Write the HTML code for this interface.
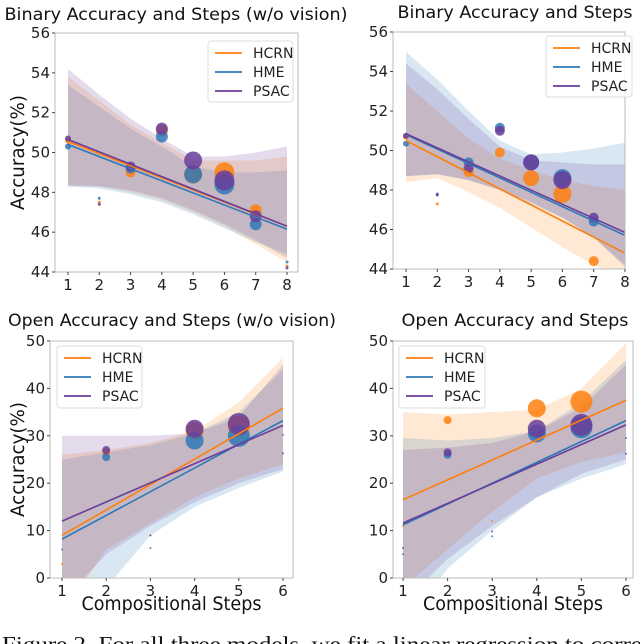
<!DOCTYPE html>
<html><head><meta charset="utf-8"><style>
html,body{margin:0;padding:0;background:#fff;overflow:hidden}
svg{display:block;font-family:"DejaVu Sans","Liberation Sans",sans-serif}
</style></head><body>
<svg id="fig" width="640" height="644" viewBox="0 0 640 644" xmlns="http://www.w3.org/2000/svg"></svg>
<script>
// ---- data ----
const seriesNames = ["HCRN","HME","PSAC"];
const p1Steps = [1,2,3,4,5,6,7,8];
const p1HCRN = [50.6,47.5,49.0,51.1,48.9,49.0,47.1,44.3];
const p1HME  = [50.3,47.7,49.2,50.8,48.9,48.4,46.4,44.5];
const p1PSAC = [50.7,47.4,49.3,51.2,49.6,48.6,46.8,44.2];
const p1Size = [3,1.5,5,6,9,10,6,1.5];
const p1Fit = [[50.55,46.3],[50.4,46.15],[50.65,46.3]];
const p1HCRNUp=[53.8,52.6,51.4,50.5,49.6,49.6,49.6,49.8], p1HCRNLo=[48.4,48.3,48.0,47.6,47.0,46.3,45.4,44.5];
const p1HMEUp=[53.4,52.3,51.2,50.3,49.3,49.0,49.0,49.1], p1HMELo=[48.3,48.2,47.9,47.5,46.9,46.2,45.5,44.9];
const p1PSACUp=[54.2,52.9,51.7,50.7,49.8,49.8,50.0,50.3], p1PSACLo=[48.3,48.3,48.1,47.7,47.1,46.4,45.6,44.7];

const p2Steps = [1,2,3,4,5,6,7];
const p2HCRN = [50.7,47.3,48.9,49.9,48.6,47.8,44.4];
const p2HME  = [50.35,47.8,49.4,51.15,49.4,48.6,46.4];
const p2PSAC = [50.75,47.75,49.1,51.0,49.4,48.5,46.6];
const p2Size = [3,1.5,5,5,8,9,5];
const p2Fit = [[50.5,44.8],[50.8,45.7],[50.85,45.85]];
const p2HCRNUp=[53.4,52.0,50.6,49.6,49.0,48.5,48.2,48.0], p2HCRNLo=[48.4,48.6,47.9,47.1,46.1,45.1,44.2,43.5];
const p2HMEUp=[55.0,53.6,52.0,50.5,49.8,49.9,50.1,50.4], p2HMELo=[48.7,48.8,48.5,48.0,47.3,46.6,45.6,44.2];
const p2PSACUp=[54.4,53.1,51.6,50.2,49.5,49.4,49.3,49.3], p2PSACLo=[48.7,48.8,48.5,48.0,47.4,46.6,45.6,44.1];

const p3Steps = [1,2,3,4,5,6];
const p3HCRN = [3,26.5,9,31,32,null];
const p3HME  = [6,25.5,6.3,29,30,30.2];
const p3PSAC = [null,27,9,31.5,32.5,26.3];
const p3Size = [1,4,1,9,11,1];
const p3Fit = [[9,35.8],[8.2,33.2],[12,32.2]];
const p3HCRNUp=[26,27,28.5,31,37,46.5], p3HCRNLo=[-8,6,11.5,17,21,24];
const p3HMEUp=[25,26.5,28,30.5,35,44], p3HMELo=[-12,-2,9,15,19,22.5];
const p3PSACUp=[30,30,30,30.5,34,45], p3PSACLo=[-5,5,11,16,20,23];

const p4Steps = [1,2,3,4,5,6];
const p4HCRN = [11,33.3,12,35.8,37.2,null];
const p4HME  = [5,26,8.8,30.5,31.8,29.5];
const p4PSAC = [6.3,26.5,9.8,31.5,32.3,26.2];
const p4Size = [1,4,1,9,11,1];
const p4Fit = [[16.5,37.5],[11.2,33.2],[11.6,32.3]];
const p4HCRNUp=[35,34.5,35,35.5,40,49.5], p4HCRNLo=[-2,6,14,21,24.5,26.5];
const p4HMEUp=[29.5,29,29.5,31,37,46], p4HMELo=[-10,2,10,17,21,24];
const p4PSACUp=[27,27.5,28.5,31,36,45], p4PSACLo=[-5,4,11,17,22,25];

const binTicks = [44,46,48,50,52,54,56];
const openTicks = [0,10,20,30,40,50];

const colors = ["#ff7f0e","#2f78b6","#6a3d9a"];
const NS="http://www.w3.org/2000/svg";
const svg=document.getElementById("fig");
function mk(tag,attrs,parent){const e=document.createElementNS(NS,tag);for(const k in attrs)e.setAttribute(k,attrs[k]);(parent||svg).appendChild(e);return e;}

const panels=[
 {id:"binary-wo-vision",box:[55,33,298,272],x1:[1,68],x8:[8,287],yd:[44,56],yTicks:binTicks,steps:p1Steps,
  ys:[p1HCRN,p1HME,p1PSAC],size:p1Size,fit:p1Fit,bands:[[p1HCRNUp,p1HCRNLo],[p1HMEUp,p1HMELo],[p1PSACUp,p1PSACLo]],bandX:[1,2,3,4,5,6,7,8],
  title:"Binary Accuracy and Steps (w/o vision)",tx:176,ty:20,tw:343,legend:[208,41,85,61],ylab:true,xlab:false,fitX:[1,8]},
 {id:"binary",box:[393,32,625,269],x1:[1,406],x8:[8,625],yd:[44,56],yTicks:binTicks,steps:p2Steps,
  ys:[p2HCRN,p2HME,p2PSAC],size:p2Size,fit:p2Fit,bands:[[p2HCRNUp,p2HCRNLo],[p2HMEUp,p2HMELo],[p2PSACUp,p2PSACLo]],bandX:[1,2,3,4,5,6,7,8],
  title:"Binary Accuracy and Steps",tx:515,ty:18,tw:235,legend:[546,36,86,61],ylab:false,xlab:false,fitX:[1,8]},
 {id:"open-wo-vision",box:[50,341,293,578],x1:[1,62],x8:[6,283],yd:[0,50],yTicks:openTicks,steps:p3Steps,
  ys:[p3HCRN,p3HME,p3PSAC],size:p3Size,fit:p3Fit,bands:[[p3HCRNUp,p3HCRNLo],[p3HMEUp,p3HMELo],[p3PSACUp,p3PSACLo]],bandX:[1,2,3,4,5,6],
  title:"Open Accuracy and Steps (w/o vision)",tx:172,ty:326,tw:328,legend:[57,346,85,62],ylab:true,xlab:true,fitX:[1,6]},
 {id:"open",box:[393,341,633,578],x1:[1,403],x8:[6,626],yd:[0,50],yTicks:openTicks,steps:p4Steps,
  ys:[p4HCRN,p4HME,p4PSAC],size:p4Size,fit:p4Fit,bands:[[p4HCRNUp,p4HCRNLo],[p4HMEUp,p4HMELo],[p4PSACUp,p4PSACLo]],bandX:[1,2,3,4,5,6],
  title:"Open Accuracy and Steps",tx:515,ty:326,tw:227,legend:[399,346,86,62],ylab:false,xlab:true,fitX:[1,6]}
];

panels.forEach((p,pi)=>{
  const g=mk("g",{});
  
  
  const [L,T,R,B]=p.box;
  const sx=v=>p.x1[1]+(v-p.x1[0])*(p.x8[1]-p.x1[1])/(p.x8[0]-p.x1[0]);
  const sy=v=>B-(v-p.yd[0])*(B-T)/(p.yd[1]-p.yd[0]);
  const cp=mk("clipPath",{id:"cp"+pi},g);
  mk("rect",{x:L,y:T,width:R-L,height:B-T},cp);
  const plot=mk("g",{"clip-path":"url(#cp"+pi+")"},g);
  p.bands.forEach((b,si)=>{
    let d="";
    p.bandX.forEach((x,i)=>{d+=(i?"L":"M")+sx(x)+","+sy(b[0][i]);});
    for(let i=p.bandX.length-1;i>=0;i--)d+="L"+sx(p.bandX[i])+","+sy(b[1][i]);
    const e=mk("path",{d:d+"Z",fill:colors[si],"fill-opacity":0.18},plot);
    
    
  });
  p.ys.forEach((arr,si)=>{
    arr.forEach((v,i)=>{
      if(v===null)return;
      const c=mk("circle",{cx:sx(p.steps[i]),cy:sy(v),r:p.size[i],fill:colors[si],"fill-opacity":0.85},plot);
      
      
    });
  });
  p.fit.forEach((f,si)=>{
    const l=mk("line",{x1:sx(p.fitX[0]),y1:sy(f[0]),x2:sx(p.fitX[1]),y2:sy(f[1]),stroke:colors[si],"stroke-width":1.6},plot);
    
    
  });
  const fr=mk("rect",{x:L,y:T,width:R-L,height:B-T,fill:"none",stroke:"#bbb","stroke-width":1},g);
  
  
  const nx=p.x8[0];
  for(let x=1;x<=nx;x++){
    mk("line",{x1:sx(x),y1:B,x2:sx(x),y2:B+3,stroke:"#444"},g);
    const t=mk("text",{x:sx(x),y:B+18,"font-size":15,"text-anchor":"middle",fill:"#222"},g);
    t.textContent=x;
    
    
  }
  p.yTicks.forEach(v=>{
    mk("line",{x1:L-3,y1:sy(v),x2:L,y2:sy(v),stroke:"#444"},g);
    const t=mk("text",{x:L-5,y:sy(v)+5,"font-size":15,"text-anchor":"end",fill:"#222"},g);
    t.textContent=v;
    
    
  });
  const tt=mk("text",{x:p.tx,y:p.ty,"font-size":17,"text-anchor":"middle",fill:"#111",textLength:p.tw,lengthAdjust:"spacingAndGlyphs"},g);
  tt.textContent=p.title;
  
  
  if(p.ylab){
    const cy=(T+B)/2;
    const yl=mk("text",{x:0,y:0,"font-size":19,"text-anchor":"middle",fill:"#111",textLength:115,lengthAdjust:"spacingAndGlyphs",transform:"translate(24,"+cy+") rotate(-90)"},g);
    yl.textContent="Accuracy(%)";
    
    
  }
  if(p.xlab){
    const xl=mk("text",{x:(L+R)/2,y:610,"font-size":19,"text-anchor":"middle",fill:"#111",textLength:180,lengthAdjust:"spacingAndGlyphs"},g);
    xl.textContent="Compositional Steps";
    
    
  }
  const [lx,ly,lw,lh]=p.legend;
  const lg=mk("g",{},g);
  
  
  mk("rect",{x:lx,y:ly,width:lw,height:lh,rx:3,fill:"#fff","fill-opacity":0.85,stroke:"#ddd"},lg);
  seriesNames.forEach((n,si)=>{
    const yy=ly+12+si*19;
    const e=mk("g",{},lg);
    
    
    mk("line",{x1:lx+7,y1:yy,x2:lx+34,y2:yy,stroke:colors[si],"stroke-width":1.8},e);
    const t=mk("text",{x:lx+45,y:yy+5,"font-size":14,fill:"#222"},e);
    t.textContent=n;
  });
});
const cap=mk("text",{x:2,y:651,"font-size":21,fill:"#111","font-family":"Liberation Serif, serif",textLength:640,lengthAdjust:"spacingAndGlyphs"});
cap.textContent="Figure 2. For all three models, we fit a linear regression to corre";


</script>
</body></html>
